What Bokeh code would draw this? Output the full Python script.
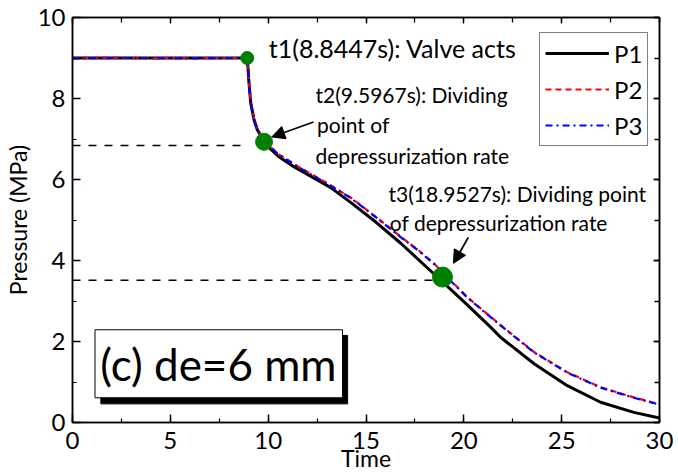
from bokeh.plotting import figure
from bokeh.models import (Range1d, LinearAxis, SingleIntervalTicker, Label, Arrow,
                          NormalHead, Legend, LegendItem, CustomJSTickFormatter)
from bokeh.embed import file_html
from bokeh.resources import INLINE

# ---------------- data ----------------
t_p1 = [0, 2, 4, 6, 8, 8.93, 8.97, 9.02, 9.11, 9.28, 9.45, 9.70, 9.85, 10.55, 11.2, 11.74,
        13.2, 14.23, 15.5, 16.79, 18.49, 19.34, 20.19, 21.38, 21.89, 23.59, 25.29, 26.99,
        28.69, 30]
p_p1 = [9.0, 9.0, 9.0, 9.0, 9.0, 9.0, 8.75, 8.38, 7.88, 7.47, 7.22, 7.02, 6.88, 6.56, 6.35, 6.2,
        5.8, 5.43, 4.95, 4.42, 3.66, 3.28, 2.9, 2.35, 2.10, 1.45, 0.91, 0.50,
        0.25, 0.11]

t_p2 = [0, 2, 4, 6, 8, 8.93, 8.97, 9.02, 9.11, 9.28, 9.45, 9.70, 9.85, 10.55, 11.5, 12.87,
        14.23, 15.5, 16.79, 17.64, 18.49, 19.34, 20.19, 21.89, 23.59, 25.29, 26.99, 28.69, 30]
p_p2 = [9.0, 9.01, 8.99, 9.0, 9.0, 9.0, 8.77, 8.42, 7.92, 7.5, 7.25, 7.05, 6.92, 6.62, 6.33, 5.95,
        5.55, 5.08, 4.58, 4.27, 3.92, 3.5, 3.09, 2.40, 1.74, 1.24, 0.87, 0.62, 0.45]

t_p3 = [0, 2, 4, 6, 8, 8.93, 8.97, 9.02, 9.11, 9.28, 9.45, 9.70, 9.85, 10.55, 11.5, 12.87,
        14.23, 15.5, 16.79, 17.64, 18.49, 19.34, 20.19, 21.89, 23.59, 25.29, 26.99, 28.69, 30]
p_p3 = [8.99, 9.0, 9.0, 8.99, 9.0, 9.0, 8.76, 8.41, 7.91, 7.49, 7.24, 7.04, 6.91, 6.61, 6.32, 5.94,
        5.54, 5.07, 4.57, 4.26, 3.91, 3.49, 3.08, 2.39, 1.73, 1.23, 0.86, 0.61, 0.44]

marker_t = [8.93, 9.79, 18.91]
marker_p = [9.0, 6.93, 3.59]
marker_size = [13, 17, 20]

guide_p = [6.84, 3.51]
guide_t_end = [9.0, 18.6]

x_ticks_step = 5
y_ticks_step = 2

FONT = "Lato"

p = figure(width=678, height=474, output_backend="svg", toolbar_location=None,
           x_range=Range1d(0, 30), y_range=Range1d(0, 10),
           min_border_left=71, min_border_right=19, min_border_top=17, min_border_bottom=52,
           x_axis_label="Time", y_axis_label="Pressure (MPa)")
p.xgrid.visible = False
p.ygrid.visible = False
p.outline_line_color = "black"
p.outline_line_width = 1.5
p.background_fill_color = "white"
p.border_fill_color = "white"

p.xaxis.ticker = SingleIntervalTicker(interval=x_ticks_step, num_minor_ticks=2)
p.yaxis.ticker = SingleIntervalTicker(interval=y_ticks_step, num_minor_ticks=2)
for ax in (p.xaxis[0], p.yaxis[0]):
    ax.axis_line_color = "black"
    ax.axis_line_width = 1.5
    ax.major_tick_in = 8
    ax.major_tick_out = 0
    ax.minor_tick_in = 4
    ax.minor_tick_out = 0
    ax.major_tick_line_width = 1.5
    ax.minor_tick_line_width = 1.2
    ax.major_label_text_font = FONT
    ax.major_label_text_font_size = "24px"
    ax.major_label_text_color = "black"
    ax.axis_label_text_font = FONT
    ax.axis_label_text_font_size = "23px"
    ax.axis_label_text_font_style = "normal"
    ax.axis_label_text_color = "black"
p.xaxis.major_label_standoff = 9
p.xaxis.axis_label_standoff = -8
p.yaxis.major_label_standoff = 7
p.yaxis.axis_label_standoff = 3

# mirror axes (ticks only)
top = LinearAxis(ticker=SingleIntervalTicker(interval=x_ticks_step, num_minor_ticks=2),
                 formatter=CustomJSTickFormatter(code="return ''"))
right = LinearAxis(ticker=SingleIntervalTicker(interval=y_ticks_step, num_minor_ticks=2),
                   formatter=CustomJSTickFormatter(code="return ''"))
for ax in (top, right):
    ax.axis_line_color = "black"
    ax.axis_line_width = 1.5
    ax.major_tick_in = 6
    ax.major_tick_out = 0
    ax.minor_tick_in = 5
    ax.minor_tick_out = 0
    ax.major_tick_line_width = 1.3
    ax.minor_tick_line_width = 1.3
    ax.major_label_text_font_size = "1px"
    ax.major_label_standoff = 0
p.add_layout(top, "above")
p.add_layout(right, "right")

# guide dashed lines
p.segment(x0=[0] * len(guide_p), y0=guide_p, x1=guide_t_end, y1=guide_p,
          line_color="black", line_width=1.5, line_dash="8 8")

# curves
r1 = p.line(t_p1, p_p1, line_color="black", line_width=3)
r2 = p.line(t_p2, p_p2, line_color="#ff0000", line_width=2.2, line_dash="6 4")
r3 = p.line(t_p3, p_p3, line_color="#0000ff", line_width=2.2, line_dash="7 4 2 4")

# marker dots
p.scatter(marker_t, marker_p, size=marker_size, color="#008000")

# annotation box with shadow
p.quad(left=[1.45], right=[14.06], bottom=[0.46], top=[2.15], fill_color="black", line_color="black")
p.quad(left=[1.15], right=[13.80], bottom=[0.61], top=[2.29], fill_color="white",
       line_color="black", line_width=1)
p.add_layout(Label(x=1.42, y=1.45, text="(c) de=6 mm", text_font=FONT, text_font_size="44px",
                   text_baseline="middle", text_color="black"))

# texts
def lab(x, y, s, size):
    p.add_layout(Label(x=x, y=y, text=s, text_font=FONT, text_font_size=size,
                       text_baseline="middle", text_color="black"))

lab(10.03, 9.25, "t1(8.8447s): Valve acts", "25px")
lab(12.42, 8.09, "t2(9.5967s): Dividing", "21px")
lab(12.50, 7.37, " point of", "21px")
lab(12.42, 6.60, "depressurization rate", "21px")
lab(16.15, 5.66, "t3(18.9527s): Dividing point", "21px")
lab(16.22, 4.94, "of depressurization rate", "21px")

# arrows
p.add_layout(Arrow(x_start=12.32, y_start=7.42, x_end=10.18, y_end=7.05, line_width=1.8,
                   line_color="black",
                   end=NormalHead(size=13, fill_color="black", line_color="black")))
p.add_layout(Arrow(x_start=20.23, y_start=4.57, x_end=19.47, y_end=3.93, line_width=1.8,
                   line_color="black",
                   end=NormalHead(size=13, fill_color="black", line_color="black")))

# legend
legend = Legend(items=[LegendItem(label="P1", renderers=[r1]),
                       LegendItem(label="P2", renderers=[r2]),
                       LegendItem(label="P3", renderers=[r3])],
                location=(467, 276), glyph_width=64, glyph_height=30, label_height=30,
                label_standoff=5, spacing=6, padding=5, margin=0,
                label_text_font=FONT, label_text_font_size="24px", label_text_color="black",
                border_line_color="black", border_line_width=1,
                background_fill_color="white", background_fill_alpha=1)
p.add_layout(legend)

open("out.html", "w").write(file_html(p, INLINE))
